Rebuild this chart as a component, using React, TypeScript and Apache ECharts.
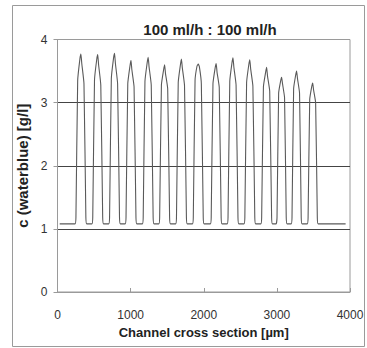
import React, { useEffect, useRef } from "react";
import * as echarts from "echarts";

const titleText = "100 ml/h : 100 ml/h";
const xAxisName = "Channel cross section [µm]";
const yAxisName = "c (waterblue) [g/l]";
const xTicks = [0, 1000, 2000, 3000, 4000];
const yTicks = [0, 1, 2, 3, 4];

// concentration profile [x in µm, c in g/l]
const baselineStart: [number, number][] = [[30, 1.08]];
const peak1: [number, number][] = [[240, 1.08], [252, 1.18], [276, 3.35], [306, 3.69], [320, 3.77], [332, 3.62], [362, 3.3], [388, 1.18], [400, 1.08]];
const peak2: [number, number][] = [[470, 1.08], [482, 1.18], [506, 3.36], [536, 3.68], [550, 3.76], [562, 3.6], [592, 3.28], [618, 1.18], [630, 1.08]];
const peak3: [number, number][] = [[700, 1.08], [712, 1.18], [736, 3.38], [766, 3.7], [780, 3.78], [792, 3.62], [822, 3.3], [848, 1.18], [860, 1.08]];
const peak4: [number, number][] = [[925, 1.08], [937, 1.18], [961, 3.3], [991, 3.58], [1005, 3.67], [1017, 3.52], [1047, 3.25], [1073, 1.18], [1085, 1.08]];
const peak5: [number, number][] = [[1160, 1.08], [1172, 1.18], [1196, 3.34], [1226, 3.63], [1240, 3.72], [1252, 3.57], [1282, 3.28], [1308, 1.18], [1320, 1.08]];
const peak6: [number, number][] = [[1385, 1.08], [1397, 1.18], [1421, 3.28], [1451, 3.52], [1465, 3.6], [1477, 3.46], [1507, 3.22], [1533, 1.18], [1545, 1.08]];
const peak7: [number, number][] = [[1615, 1.08], [1627, 1.18], [1651, 3.32], [1681, 3.6], [1695, 3.69], [1707, 3.55], [1737, 3.27], [1763, 1.18], [1775, 1.08]];
const peak8: [number, number][] = [[1845, 1.08], [1857, 1.18], [1881, 3.35], [1908, 3.58], [1925, 3.61], [1940, 3.57], [1967, 3.3], [1993, 1.18], [2005, 1.08]];
const peak9: [number, number][] = [[2090, 1.08], [2102, 1.18], [2126, 3.3], [2156, 3.55], [2170, 3.62], [2182, 3.48], [2212, 3.24], [2238, 1.18], [2250, 1.08]];
const peak10: [number, number][] = [[2320, 1.08], [2332, 1.18], [2356, 3.34], [2386, 3.63], [2400, 3.71], [2412, 3.56], [2442, 3.28], [2468, 1.18], [2480, 1.08]];
const peak11: [number, number][] = [[2550, 1.08], [2562, 1.18], [2586, 3.32], [2616, 3.6], [2630, 3.68], [2642, 3.53], [2672, 3.26], [2698, 1.18], [2710, 1.08]];
const peak12: [number, number][] = [[2780, 1.08], [2792, 1.18], [2816, 3.25], [2846, 3.48], [2860, 3.56], [2872, 3.42], [2902, 3.18], [2928, 1.18], [2940, 1.08]];
const peak13: [number, number][] = [[2990, 1.08], [3002, 1.18], [3024, 3.15], [3051, 3.34], [3065, 3.4], [3077, 3.3], [3105, 3.08], [3128, 1.18], [3140, 1.08]];
const peak14: [number, number][] = [[3195, 1.08], [3207, 1.18], [3229, 3.22], [3256, 3.43], [3270, 3.5], [3282, 3.38], [3310, 3.15], [3333, 1.18], [3345, 1.08]];
const peak15: [number, number][] = [[3415, 1.08], [3427, 1.18], [3449, 3.05], [3476, 3.25], [3490, 3.31], [3502, 3.2], [3530, 3.0], [3553, 1.18], [3565, 1.08]];
const baselineEnd: [number, number][] = [[3940, 1.08]];

const profile = [
  ...baselineStart, ...peak1, ...peak2, ...peak3, ...peak4, ...peak5,
  ...peak6, ...peak7, ...peak8, ...peak9, ...peak10, ...peak11,
  ...peak12, ...peak13, ...peak14, ...peak15, ...baselineEnd,
];

const FONT = "'Liberation Sans', Arial, sans-serif";

export default function App() {
  const ref = useRef<HTMLDivElement>(null);
  useEffect(() => {
    if (!ref.current) return;
    const chart = echarts.init(ref.current, undefined, { renderer: "svg" });
    chart.setOption({
      animation: false,
      backgroundColor: "#ffffff",
      title: {
        text: titleText,
        left: 205,
        top: 17,
        textAlign: "center",
        textStyle: { fontFamily: FONT, fontSize: 15, fontWeight: "bold", color: "#222" },
      },
      graphic: [
        {
          type: "rect",
          shape: { x: 12.5, y: 5.5, width: 352, height: 341 },
          style: { fill: "none", stroke: "#9a9a9a", lineWidth: 1 },
          silent: true,
        },
      ],
      grid: {
        left: 57.5,
        right: 17,
        top: 39.5,
        bottom: 56,
        show: true,
        borderColor: "#9a9a9a",
        borderWidth: 1,
      },
      xAxis: {
        type: "value",
        min: xTicks[0],
        max: xTicks[xTicks.length - 1],
        interval: 1000,
        name: xAxisName,
        nameLocation: "middle",
        nameGap: 30,
        nameTextStyle: { fontFamily: FONT, fontSize: 13, fontWeight: "bold", color: "#222" },
        axisLine: { show: true, lineStyle: { color: "#9a9a9a", width: 1 } },
        axisTick: { show: true, inside: true, length: 4, lineStyle: { color: "#9a9a9a" } },
        axisLabel: {
          fontFamily: FONT,
          fontSize: 12,
          color: "#333",
          margin: 17,
          formatter: (v: number) => String(v),
        },
        splitLine: { show: false },
      },
      yAxis: {
        type: "value",
        min: yTicks[0],
        max: yTicks[yTicks.length - 1],
        interval: 1,
        name: yAxisName,
        nameLocation: "middle",
        nameGap: 28,
        nameTextStyle: { fontFamily: FONT, fontSize: 15, fontWeight: "bold", color: "#222" },
        axisLine: { show: true, lineStyle: { color: "#9a9a9a", width: 1 } },
        axisTick: { show: true, inside: false, length: 4, lineStyle: { color: "#9a9a9a" } },
        axisLabel: {
          fontFamily: FONT,
          fontSize: 12,
          color: "#333",
          margin: 10,
          formatter: (v: number) => String(v),
        },
        splitLine: {
          show: true,
          lineStyle: { color: ["#9a9a9a", "#444", "#444", "#444", "#9a9a9a"], width: 1 },
        },
      },
      series: [
        {
          type: "line",
          data: profile,
          showSymbol: false,
          smooth: 0.15,
          lineStyle: { color: "#5a5a5a", width: 1.1 },
        },
      ],
    });
    return () => chart.dispose();
  }, []);
  return (
    <div
      ref={ref}
      style={{ position: "absolute", left: 0, top: 0, width: 367, height: 348 }}
    />
  );
}
